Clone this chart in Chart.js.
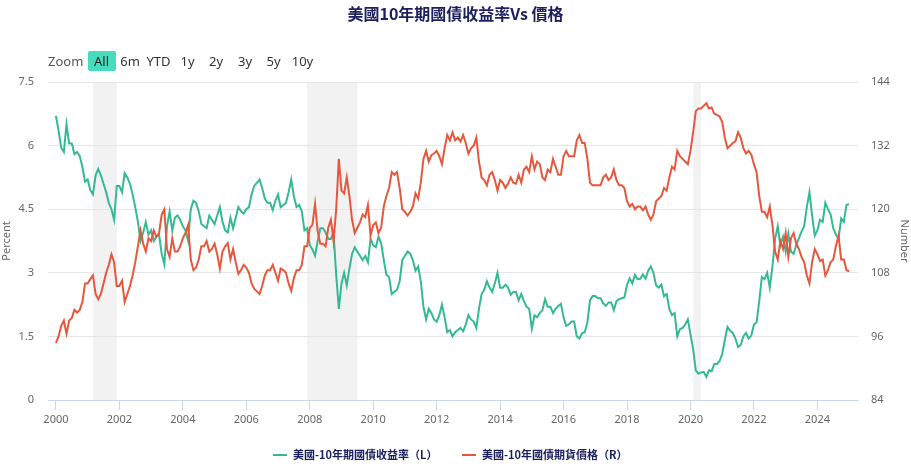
<!DOCTYPE html>
<html>
<head>
<meta charset="utf-8">
<script src="https://cdn.jsdelivr.net/npm/chart.js@4"></script>
<style>
  html, body { margin: 0; padding: 0; background: #ffffff; }
  #wrap { position: relative; width: 911px; height: 469px; overflow: hidden; font-family: "Noto Sans", "Noto Sans CJK TC", sans-serif; }
  canvas { position: absolute; left: 0; top: 0; }
  #title { position: absolute; left: 0; top: 3px; width: 911px; text-align: center; font: bold 16px "Noto Sans CJK TC", sans-serif; color: #1b1f5c; line-height: 20px; }
  .rs { position: absolute; top: 51px; height: 20px; line-height: 20px; font-size: 13px; color: #333; text-align: center; width: 28px; }
  #zoomLbl { left: 48px; width: auto; color: #555; }
  .rs.active { background: #47dcbc; border-radius: 2px; color: #222; }
  #legend { position: absolute; top: 446px; left: 0; width: 911px; height: 18px; }
  .li { position: absolute; top: 0; height: 18px; line-height: 18px; font: bold 11px "Noto Sans CJK TC", sans-serif; color: #1b1f5c; white-space: nowrap; }
  .sym { display: inline-block; width: 14px; height: 2px; vertical-align: middle; margin-right: 6px; position: relative; top: -1px; }
</style>
</head>
<body>
<div id="wrap">
  <canvas id="c" width="911" height="469"></canvas>
  <div id="title">美國10年期國債收益率Vs 價格</div>
  <div id="rsbar"></div>
  <div id="legend"></div>
</div>
<script>
// ---- data ----
const startYear = 2000; // first monthly value = Jan 2000, one value per month
const yieldL = [
  6.70, 6.35, 5.95, 5.85, 6.50, 6.05, 6.05, 5.80, 5.85, 5.75, 5.50, 5.15,
  5.20, 4.95, 4.85, 5.30, 5.45, 5.30, 5.10, 4.90, 4.65, 4.50, 4.25, 5.05,
  5.05, 4.90, 5.35, 5.25, 5.10, 4.85, 4.55, 4.20, 3.75, 3.95, 4.20, 3.90,
  4.00, 3.75, 3.85, 3.90, 3.45, 3.20, 4.10, 4.45, 4.00, 4.30, 4.35, 4.25,
  4.10, 4.00, 3.75, 4.50, 4.70, 4.65, 4.45, 4.15, 4.10, 4.05, 4.35, 4.25,
  4.15, 4.35, 4.55, 4.20, 4.00, 3.95, 4.30, 4.05, 4.30, 4.55, 4.45, 4.40,
  4.50, 4.55, 4.85, 5.05, 5.12, 5.20, 5.00, 4.75, 4.65, 4.65, 4.48, 4.70,
  4.85, 4.55, 4.60, 4.65, 4.90, 5.20, 4.80, 4.55, 4.60, 4.45, 4.00, 4.05,
  3.65, 3.55, 3.40, 3.75, 4.05, 4.05, 3.95, 3.80, 3.80, 3.95, 2.95, 2.15,
  2.75, 3.00, 2.70, 3.10, 3.45, 3.60, 3.50, 3.40, 3.30, 3.40, 3.25, 3.80,
  3.65, 3.60, 3.85, 3.70, 3.30, 2.95, 2.90, 2.50, 2.55, 2.60, 2.80, 3.30,
  3.40, 3.50, 3.45, 3.30, 3.05, 3.15, 2.80, 2.20, 1.90, 2.15, 2.05, 1.90,
  1.85, 2.00, 2.25, 1.95, 1.60, 1.65, 1.50, 1.60, 1.65, 1.70, 1.62, 1.78,
  2.00, 1.90, 1.85, 1.70, 2.15, 2.50, 2.60, 2.80, 2.65, 2.55, 2.75, 3.00,
  2.65, 2.65, 2.72, 2.65, 2.48, 2.55, 2.55, 2.35, 2.50, 2.33, 2.20, 2.15,
  1.68, 2.00, 1.95, 2.05, 2.12, 2.38, 2.20, 2.20, 2.05, 2.15, 2.22, 2.27,
  1.95, 1.75, 1.78, 1.85, 1.85, 1.50, 1.45, 1.58, 1.60, 1.83, 2.35, 2.45,
  2.45, 2.40, 2.40, 2.28, 2.22, 2.30, 2.30, 2.12, 2.33, 2.38, 2.40, 2.42,
  2.72, 2.87, 2.75, 2.95, 2.85, 2.86, 2.96, 2.86, 3.05, 3.15, 3.00, 2.70,
  2.65, 2.72, 2.45, 2.50, 2.15, 2.00, 2.05, 1.50, 1.67, 1.70, 1.78, 1.90,
  1.55, 1.20, 0.70, 0.62, 0.65, 0.66, 0.55, 0.70, 0.68, 0.85, 0.85, 0.92,
  1.08, 1.42, 1.72, 1.63, 1.58, 1.45, 1.25, 1.30, 1.50, 1.58, 1.45, 1.52,
  1.78, 1.83, 2.33, 2.90, 2.85, 3.00, 2.65, 3.15, 3.80, 4.10, 3.65, 3.85,
  3.50, 3.92, 3.50, 3.45, 3.65, 3.82, 3.97, 4.10, 4.55, 4.90, 4.35, 3.88,
  4.00, 4.25, 4.20, 4.65, 4.50, 4.38, 4.05, 3.90, 3.80, 4.28, 4.20, 4.60,
  4.62
];
const priceR = [
  94.8, 96.0, 98.0, 99.0, 96.5, 99.0, 99.5, 101.0, 100.5, 101.0, 102.5, 106.0,
  106.0, 106.8, 107.5, 104.0, 103.0, 104.0, 106.0, 108.0, 109.5, 111.5, 110.0, 105.5,
  105.5, 106.5, 102.5, 104.0, 105.5, 107.5, 110.0, 113.0, 116.0, 113.5, 112.0, 114.5,
  114.0, 116.0, 114.8, 115.5, 119.0, 120.0, 112.5, 111.0, 114.5, 112.0, 112.0, 113.0,
  114.5, 115.5, 117.0, 110.5, 108.5, 109.0, 110.5, 113.0, 113.0, 114.0, 112.0, 112.5,
  113.5, 111.5, 108.8, 112.0, 113.0, 113.6, 110.5, 112.5, 110.0, 107.8, 108.5, 109.5,
  109.0, 108.0, 106.0, 105.0, 104.5, 104.0, 105.5, 107.5, 108.5, 108.5, 109.5, 108.0,
  106.5, 108.8, 108.5, 108.0, 106.0, 104.6, 107.0, 108.5, 108.5, 109.5, 113.0, 113.0,
  116.5, 117.0, 121.0, 115.8, 113.5, 113.5, 113.0, 116.5, 118.0, 114.0, 120.0, 129.5,
  123.5, 123.0, 126.0, 122.5, 118.0, 115.5, 116.5, 117.5, 119.0, 118.5, 120.8, 115.0,
  117.0, 117.5, 115.5, 116.5, 120.5, 122.5, 124.0, 127.0, 126.5, 127.0, 124.0, 120.0,
  119.5, 118.8, 119.5, 120.5, 123.0, 122.0, 125.0, 129.5, 131.0, 129.0, 130.2, 130.5,
  131.0, 130.0, 128.5, 131.5, 134.0, 133.0, 134.5, 133.0, 133.5, 132.8, 134.0, 132.5,
  130.5, 131.5, 132.0, 133.5, 129.0, 126.0, 125.5, 124.5, 126.5, 127.0, 125.5, 123.5,
  125.5, 125.0, 124.0, 124.8, 126.0, 125.0, 124.8, 126.5, 125.0, 127.5, 128.0, 127.0,
  130.0, 127.5, 129.0, 128.5, 126.0, 125.5, 127.5, 127.0, 129.5, 128.0, 126.5, 126.5,
  130.0, 131.0, 130.0, 130.0, 130.0, 133.0, 134.0, 132.5, 132.5, 129.5, 125.0, 124.5,
  124.5, 124.5, 124.5, 126.0, 126.5, 125.5, 126.0, 127.5, 125.5, 124.5, 124.5, 124.0,
  121.5, 120.5, 121.0, 120.0, 120.5, 120.5, 119.8, 120.5, 119.0, 118.0, 119.0, 121.5,
  122.0, 122.5, 124.0, 123.5, 126.0, 128.0, 127.5, 131.0, 130.0, 129.5, 129.0, 128.5,
  131.0, 134.5, 138.5, 139.0, 139.0, 139.5, 140.0, 139.0, 139.2, 138.0, 137.8, 137.5,
  136.5, 133.5, 131.5, 132.0, 132.5, 132.8, 134.5, 133.5, 131.5, 130.5, 131.0, 130.3,
  128.5, 127.0, 122.5, 119.5, 119.5, 118.5, 120.5, 117.0, 112.0, 110.5, 114.0, 112.5,
  115.5, 111.0, 114.5, 115.5, 113.5, 112.5, 111.0, 110.0, 107.5, 106.0, 110.0, 112.5,
  111.5, 110.2, 110.5, 107.5, 108.5, 110.0, 110.5, 113.0, 115.0, 110.5, 110.5, 108.5,
  108.3
];
const seriesNames = ["美國-10年期國債收益率（L）", "美國-10年國債期貨價格（R）"];
const xTickYears = [2000, 2002, 2004, 2006, 2008, 2010, 2012, 2014, 2016, 2018, 2020, 2022, 2024];
const leftTicks = [0, 1.5, 3, 4.5, 6, 7.5];
const rightTicks = [84, 96, 108, 120, 132, 144];
const recessionStart = [2001.17, 2007.91, 2020.09];
const recessionEnd = [2001.92, 2009.50, 2020.33];
const rangeButtons = ["All", "6m", "YTD", "1y", "2y", "3y", "5y", "10y"];

const GREEN = "#35b995";
const RED = "#e5583d";

const toPoints = arr => arr.map((v, i) => ({ x: startYear + i / 12, y: v }));

// ---- html parts ----
const rsbar = document.getElementById("rsbar");
const zl = document.createElement("div");
zl.className = "rs"; zl.id = "zoomLbl"; zl.textContent = "Zoom";
rsbar.appendChild(zl);
const rsCenters = [101.5, 130, 158.5, 187.5, 216, 245, 273.5, 302.5];
rangeButtons.forEach((b, i) => {
  const d = document.createElement("div");
  d.className = "rs" + (i === 0 ? " active" : "");
  d.style.left = (rsCenters[i] - 14) + "px";
  d.textContent = b;
  rsbar.appendChild(d);
});
const legend = document.getElementById("legend");
[[GREEN, 273], [RED, 462]].forEach(([c, left], i) => {
  const d = document.createElement("div");
  d.className = "li";
  d.style.left = left + "px";
  d.innerHTML = '<span class="sym" style="background:' + c + '"></span>' + seriesNames[i];
  legend.appendChild(d);
});

// ---- bands plugin ----
const bandPlugin = {
  id: "bands",
  beforeDraw(chart) {
    const { ctx, chartArea, scales } = chart;
    ctx.save();
    ctx.fillStyle = "#f2f2f2";
    recessionStart.forEach((s, i) => {
      const x1 = scales.x.getPixelForValue(s);
      const x2 = scales.x.getPixelForValue(recessionEnd[i]);
      ctx.fillRect(x1, chartArea.top, x2 - x1, chartArea.bottom - chartArea.top);
    });
    ctx.restore();
  }
};

const tickFont = { family: "'Noto Sans', sans-serif", size: 11 };

new Chart(document.getElementById("c"), {
  type: "line",
  data: {
    datasets: [
      { label: seriesNames[0], data: toPoints(yieldL), yAxisID: "y", borderColor: GREEN, borderWidth: 2, pointRadius: 0, fill: false, tension: 0, order: 1 },
      { label: seriesNames[1], data: toPoints(priceR), yAxisID: "y1", borderColor: RED, borderWidth: 2, pointRadius: 0, fill: false, tension: 0, order: 0 }
    ]
  },
  options: {
    responsive: false,
    animation: false,
    devicePixelRatio: 1,
    layout: { padding: { top: 82, left: 0, right: 0, bottom: 0 } },
    plugins: { legend: { display: false }, title: { display: false }, tooltip: { enabled: false } },
    scales: {
      x: {
        type: "linear",
        min: 1999.75,
        max: 2025.28,
        afterBuildTicks: s => { s.ticks = xTickYears.map(v => ({ value: v })); },
        afterFit: s => { s.height = 69; },
        ticks: { callback: v => String(v), color: "#666", font: tickFont, padding: 3, maxRotation: 0, autoSkip: false },
        grid: { drawOnChartArea: false, drawTicks: true, tickLength: 10, color: "#ccd6eb" },
        border: { display: true, color: "#ccd6eb" }
      },
      y: {
        position: "left",
        min: 0, max: 7.5,
        afterBuildTicks: s => { s.ticks = leftTicks.map(v => ({ value: v })); },
        afterFit: s => { s.width = 48; },
        ticks: { color: "#666", font: tickFont, padding: 14 },
        grid: { color: "#e6e6e6", drawTicks: false },
        border: { display: false },
        title: { display: true, text: "Percent", color: "#666", font: tickFont, padding: { top: 0, bottom: 0 } }
      },
      y1: {
        position: "right",
        min: 84, max: 144,
        afterBuildTicks: s => { s.ticks = rightTicks.map(v => ({ value: v })); },
        afterFit: s => { s.width = 53; },
        ticks: { color: "#666", font: tickFont, padding: 13 },
        grid: { drawOnChartArea: false, drawTicks: false },
        border: { display: false },
        title: { display: true, text: "Number", color: "#666", font: tickFont, padding: { top: 0, bottom: 2 } }
      }
    }
  },
  plugins: [bandPlugin]
});
</script>
</body>
</html>
